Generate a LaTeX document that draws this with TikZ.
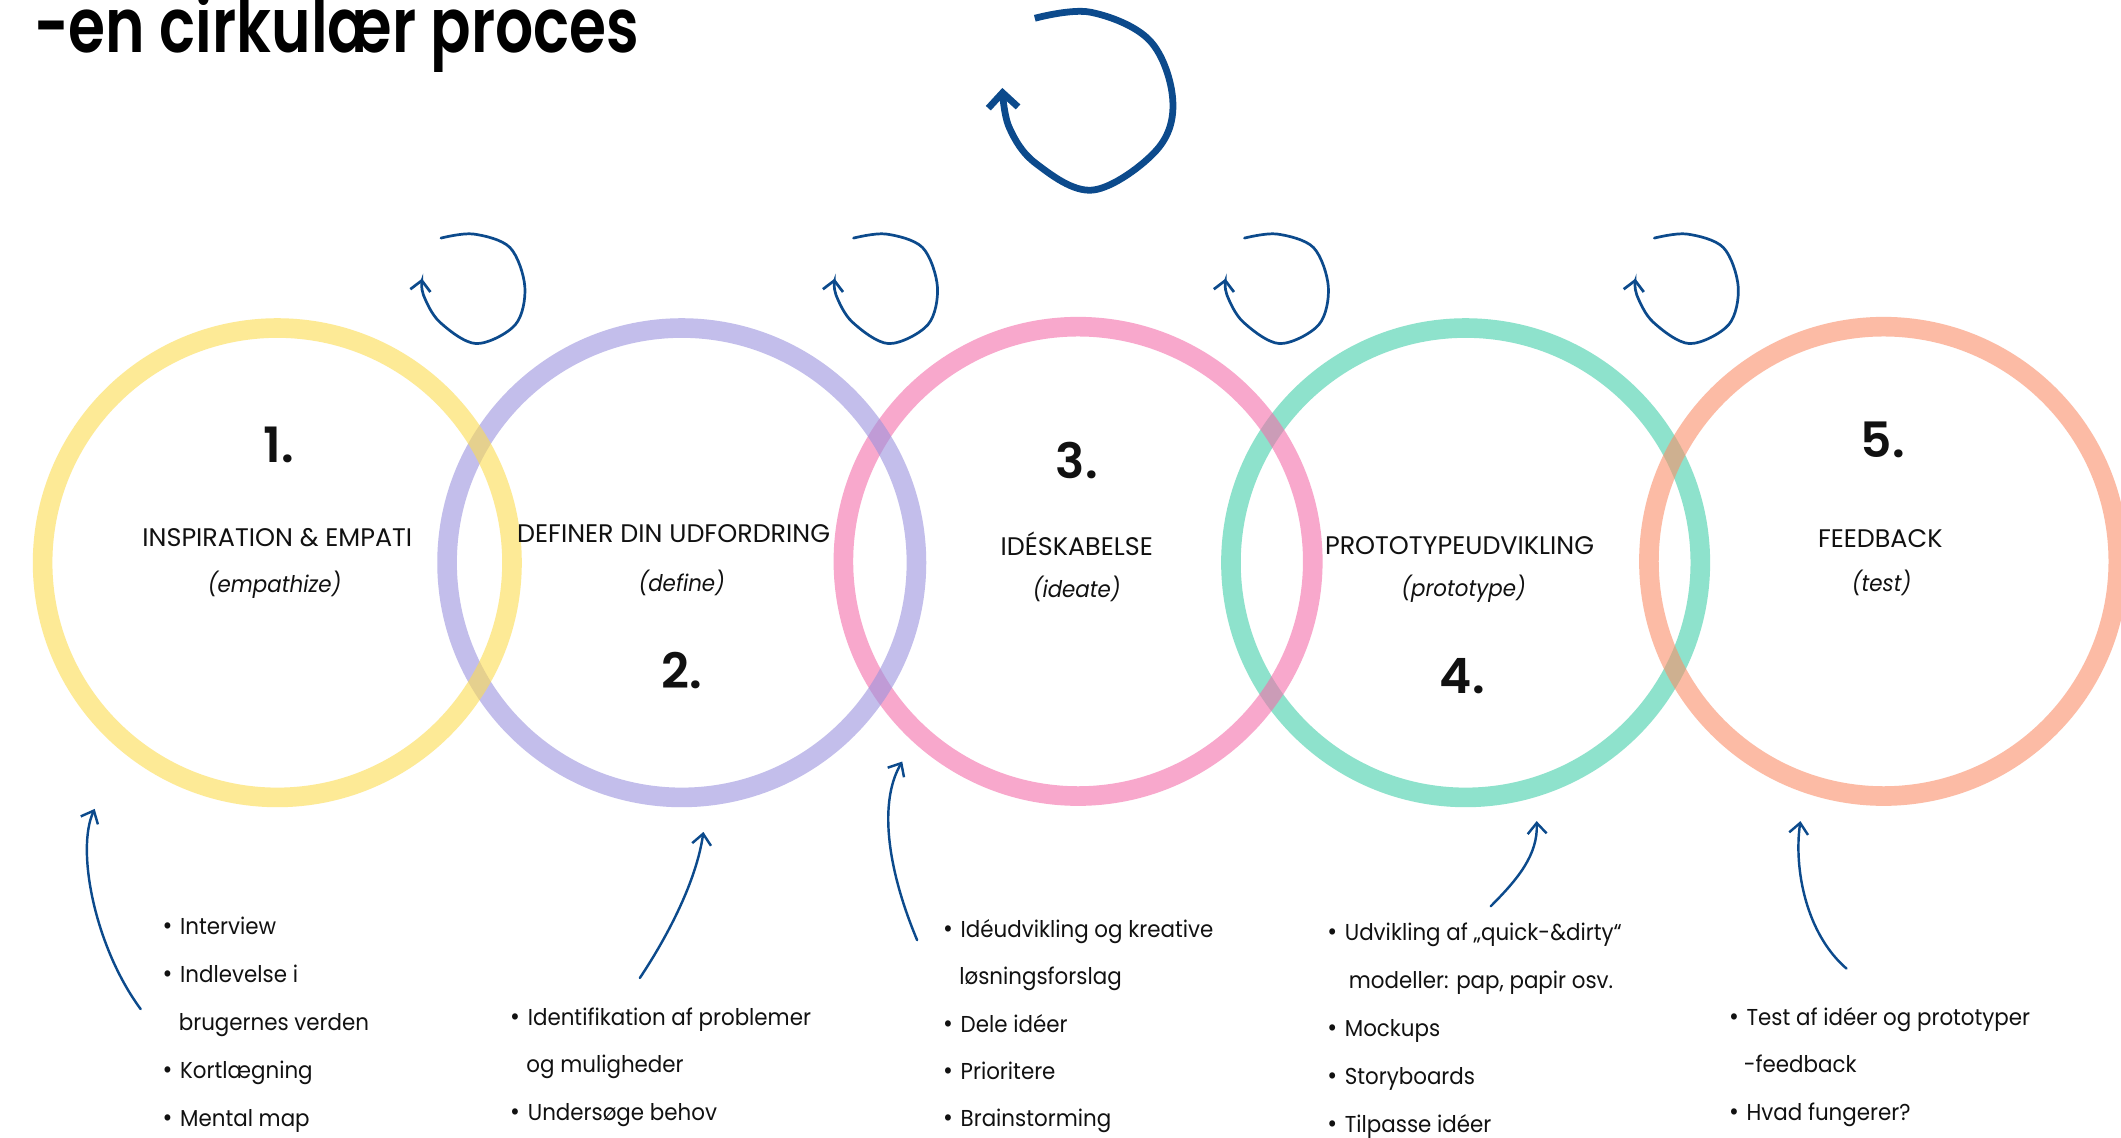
\documentclass[tikz,border=0pt]{standalone}
\usepackage{fontspec}
\usetikzlibrary{arrows.meta}
\newfontfamily\popf{Poppins}[FakeStretch=0.93]
\newfontfamily\lblf{Poppins}
\newfontfamily\titlef{Poppins}[FakeStretch=0.79, UprightFont={* SemiBold}]
\newfontfamily\numf{Poppins}[UprightFont={* SemiBold}]
\definecolor{ink}{RGB}{17,17,17}
\definecolor{arrowblue}{RGB}{12,74,140}
\definecolor{cyel}{RGB}{253,220,80}
\definecolor{cpur}{RGB}{155,147,222}
\definecolor{cpink}{RGB}{244,110,170}
\definecolor{cgreen}{RGB}{68,208,170}
\definecolor{corange}{RGB}{250,143,105}
\newcommand\itembul{\makebox[13pt][l]{\fontsize{19}{20}\selectfont •}}
\tikzset{
  ring/.style={circle, minimum size=347pt, inner sep=0pt, line width=14.5pt, draw opacity=0.6},
  lbl/.style={font=\lblf\fontsize{18.8}{22}\selectfont, text=ink, anchor=base, inner sep=0pt},
  sub/.style={font=\popf\itshape\fontsize{17}{20}\selectfont, text=ink, anchor=base, inner sep=0pt},
  num/.style={font=\numf\fontsize{36}{40}\selectfont, text=ink, anchor=base, inner sep=0pt},
  item/.style={font=\popf\fontsize{17}{20}\selectfont, text=ink, anchor=base west, inner sep=0pt},
  cyclearrow/.style={draw=arrowblue, line width=2pt, line cap=round, -{Straight Barb[length=7.5pt,width=15pt]}},
  bigcycle/.style={draw=arrowblue, line width=5pt, -{Straight Barb[length=11pt,width=22pt]}},
  pointer/.style={draw=arrowblue, line width=1.8pt, line cap=round, -{Straight Barb[length=8pt,width=14pt]}}
}
\begin{document}
\begin{tikzpicture}[x=1pt,y=-1pt]
\useasboundingbox (0,0) rectangle (1568,841);
\fill[white] (0,0) rectangle (1568,841);

% title
\node[anchor=base west, inner sep=0pt, text=black, font=\titlef\fontsize{56}{60}\selectfont] (title) at (25,39) {-en cirkulær proces};

% rings (drawing order gives the overlaps)
\node[ring, draw=cgreen] (c4) at (1083.5,416) {};
\node[ring, draw=corange] (c5) at (1392.5,415) {};
\node[ring, draw=cpink] (c3) at (797,415) {};
\node[ring, draw=cpur] (c2) at (504,416) {};
\node[ring, draw=cyel] (c1) at (205,416) {};

% circle texts
\node[num] (n1) at (206,342) {1.};
\node[lbl] (t1) at (205,404) {INSPIRATION \& EMPATI};
\node[sub] (s1) at (203,438) {(empathize)};

\node[lbl] (t2) at (498,401) {DEFINER DIN UDFORDRING};
\node[sub] (s2) at (504,437) {(define)};
\node[num] (n2) at (504,509) {2.};

\node[num] (n3) at (796,354) {3.};
\node[lbl] (t3) at (796,411) {IDÉSKABELSE};
\node[sub] (s3) at (796,442) {(ideate)};

\node[lbl] (t4) at (1079,410) {PROTOTYPEUDVIKLING};
\node[sub] (s4) at (1082,441) {(prototype)};
\node[num] (n4) at (1081,513) {4.};

\node[num] (n5) at (1392,338) {5.};
\node[lbl] (t5) at (1390,405) {FEEDBACK};
\node[sub] (s5) at (1391,437) {(test)};

% big cycle arrow
\draw[bigcycle] plot[smooth, tension=0.6] coordinates {(765,13.5) (806,9) (850,30) (867,74) (855,111) (808,140.5) (766,121) (746,94) (741,65)};

% small cycle arrows
\foreach \dx in {0,305,594,897} {
  \draw[cyclearrow, shift={(\dx,0)}] plot[smooth, tension=0.55] coordinates {(326,176) (350,173) (377,183) (388,212) (381,240) (352,254) (325,238) (313,218) (312,206)};
}

% bullet lists
\node[item] (a1) at (120,691) {\itembul Interview};
\node[item] (a2) at (120,726.5) {\itembul Indlevelse i};
\node[item] (a3) at (132,762) {brugernes verden};
\node[item] (a4) at (120,797.5) {\itembul Kortlægning};
\node[item] (a5) at (120,833) {\itembul Mental map};

\node[item] (b1) at (377,758) {\itembul Identifikation af problemer};
\node[item] (b2) at (389,793) {og muligheder};
\node[item] (b3) at (377,828) {\itembul Undersøge behov};

\node[item] (d1) at (697,693) {\itembul Idéudvikling og kreative};
\node[item] (d2) at (709,728) {løsningsforslag};
\node[item] (d3) at (697,763) {\itembul Dele idéer};
\node[item] (d4) at (697,798) {\itembul Prioritere};
\node[item] (d5) at (697,833) {\itembul Brainstorming};

\node[item] (e1) at (981,695.5) {\itembul Udvikling af „quick-\&dirty“};
\node[item] (e2) at (997,731) {modeller: pap, papir osv.};
\node[item] (e3) at (981,766.5) {\itembul Mockups};
\node[item] (e4) at (981,802) {\itembul Storyboards};
\node[item] (e5) at (981,837) {\itembul Tilpasse idéer};

\node[item] (f1) at (1278,758) {\itembul Test af idéer og prototyper};
\node[item] (f2) at (1289,793) {-feedback};
\node[item] (f3) at (1278,828) {\itembul Hvad fungerer?};

% pointer arrows
\coordinate (p1s) at (104,746); \coordinate (p1e) at (70,598);
\coordinate (p2s) at (473,723); \coordinate (p2e) at (520,615);
\coordinate (p3s) at (678,695); \coordinate (p3e) at (667,563);
\coordinate (p4s) at (1102,670); \coordinate (p4e) at (1136,607);
\coordinate (p5s) at (1365,716); \coordinate (p5e) at (1331,607);
\draw[pointer] (p1s) .. controls (70,700) and (56,628) .. (p1e);
\draw[pointer] (p2s) .. controls (495,690) and (515,650) .. (p2e);
\draw[pointer] (p3s) .. controls (655,640) and (650,592) .. (p3e);
\draw[pointer] (p4s) .. controls (1122,650) and (1137,632) .. (p4e);
\draw[pointer] (p5s) .. controls (1335,690) and (1326,642) .. (p5e);
\end{tikzpicture}
\end{document}
